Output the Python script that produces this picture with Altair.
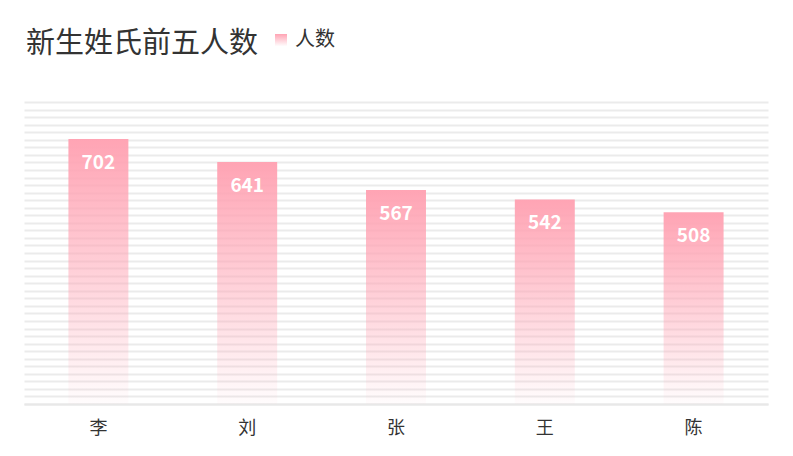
import altair as alt
import pandas as pd

names = ["李", "刘", "张", "王", "陈"]
counts = [702, 641, 567, 542, 508]
series = ["人数"] * len(names)

df = pd.DataFrame({"name": names, "count": counts, "series": series})

FONT = "Noto Sans CJK SC"
PINK = "#ffa4b4"

grad = alt.Gradient(
    gradient="linear",
    stops=[
        alt.GradientStop(offset=0, color=PINK),
        alt.GradientStop(offset=1, color="rgba(255,164,180,0.03)"),
    ],
    x1=0, x2=0, y1=0, y2=1,
)

x = alt.X(
    "name:N", sort=None, title=None,
    scale=alt.Scale(paddingInner=0.597, paddingOuter=0.2985),
    axis=alt.Axis(labelAngle=0, ticks=False, tickSize=0, labelPadding=15,
                  labelFont=FONT, labelFontSize=18, labelColor="#333333",
                  domainColor="#e8e8e8", domainWidth=2, grid=False),
)
y = alt.Y(
    "count:Q", title=None,
    scale=alt.Scale(domain=[0, 800], nice=False),
    axis=alt.Axis(labels=False, ticks=False, domain=False, tickCount=40,
                  grid=True, gridColor="#ebebeb", gridWidth=2),
)

bars = alt.Chart(df).mark_bar(fill=grad, strokeWidth=0).encode(
    x=x, y=y,
    stroke=alt.Stroke(
        "series:N", title=None,
        scale=alt.Scale(range=[PINK]),
        legend=alt.Legend(orient="none", legendX=247, legendY=-72, padding=0,
                          symbolType="square", symbolSize=144, symbolStrokeWidth=0,
                          labelFont=FONT, labelFontSize=20, labelColor="#333333",
                          labelOffset=4),
    ),
)

labels = alt.Chart(df).mark_text(
    color="white", font=FONT, fontSize=19, fontWeight="bold",
    baseline="middle", dy=24,
).encode(x=alt.X("name:N", sort=None), y="count:Q", text="count:Q")

chart = alt.layer(bars, labels).properties(
    width=744, height=302,
    title=alt.TitleParams("新生姓氏前五人数", anchor="start", font=FONT, fontSize=29,
                          fontWeight="normal", color="#333333", offset=0, dy=52,
                          baseline="alphabetic", dx=2, frame="group"),
    autosize=alt.AutoSizeParams(type="none"),
    padding={"left": 16, "top": 94, "right": 17, "bottom": 44},
).configure(background="white").configure_view(stroke=None)

chart.save("out.html", embed_options={"renderer": "svg", "actions": False})
